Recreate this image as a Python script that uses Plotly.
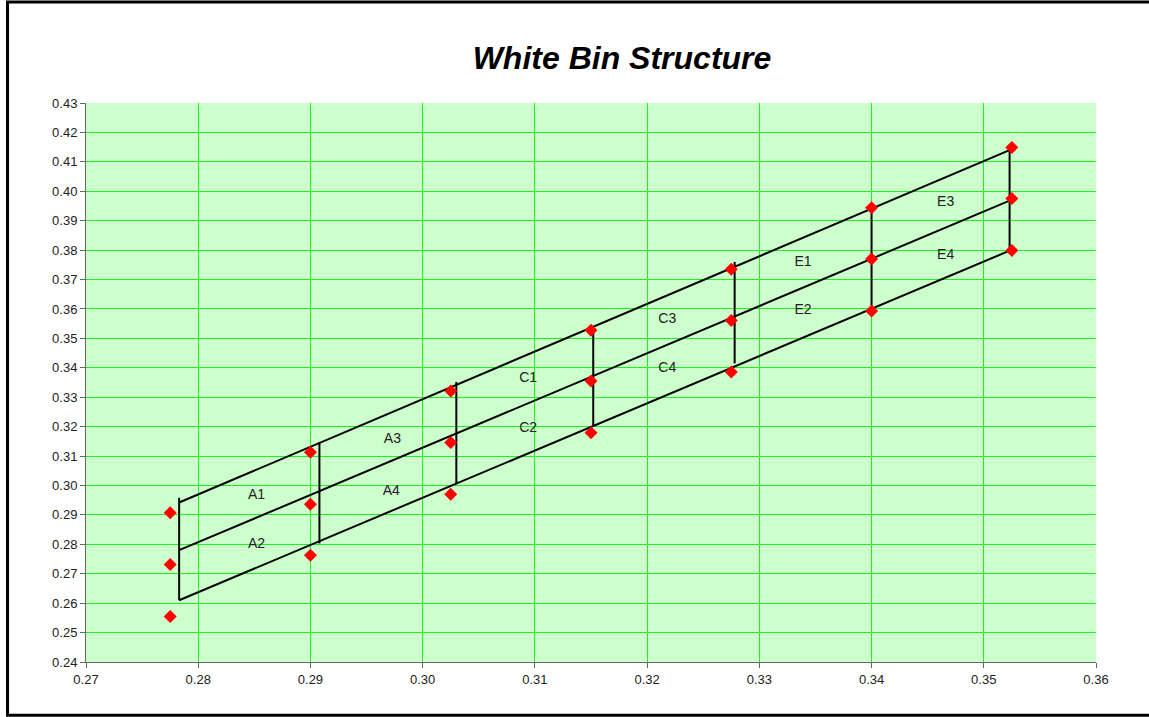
import plotly.graph_objects as go

# Marker points (bin corner points)
x_cols = [0.2775, 0.29, 0.3025, 0.315, 0.3275, 0.34, 0.3525]
upper = [0.2907, 0.3113, 0.3321, 0.3528, 0.3735, 0.3944, 0.4149]
middle = [0.2731, 0.2936, 0.3146, 0.3355, 0.3561, 0.3770, 0.3975]
lower = [0.2555, 0.2763, 0.2970, 0.3179, 0.3386, 0.3593, 0.3799]

# Bin boundary lines (diagonals)
diag_x = [0.2783, 0.3523]
top_line_y = [0.2942, 0.4140]
mid_line_y = [0.2780, 0.3968]
bot_line_y = [0.2610, 0.3798]

# Bin boundary lines (verticals)
vert_x = [0.2783, 0.2908, 0.3030, 0.3152, 0.3278, 0.3400, 0.3523]
vert_top = [0.2958, 0.3148, 0.3352, 0.3539, 0.3760, 0.3953, 0.4154]
vert_bot = [0.2610, 0.2803, 0.3004, 0.3203, 0.3415, 0.3607, 0.3798]

# Bin labels
bin_names = ["A1", "A2", "A3", "A4", "C1", "C2", "C3", "C4", "E1", "E2", "E3", "E4"]
bin_x = [0.2852, 0.2852, 0.2973, 0.2972, 0.3094, 0.3094, 0.3218, 0.3218, 0.3339, 0.3339, 0.3466, 0.3466]
bin_y = [0.2967, 0.2800, 0.3156, 0.2981, 0.3362, 0.3192, 0.3564, 0.3396, 0.3759, 0.3596, 0.3963, 0.3783]

x_ticks = [0.27, 0.28, 0.29, 0.30, 0.31, 0.32, 0.33, 0.34, 0.35, 0.36]
y_ticks = [0.24, 0.25, 0.26, 0.27, 0.28, 0.29, 0.30, 0.31, 0.32, 0.33,
           0.34, 0.35, 0.36, 0.37, 0.38, 0.39, 0.40, 0.41, 0.42, 0.43]

fig = go.Figure()

line_style = dict(color="black", width=2)
for ys in (top_line_y, mid_line_y, bot_line_y):
    fig.add_trace(go.Scatter(x=diag_x, y=ys, mode="lines", line=line_style,
                             hoverinfo="skip", showlegend=False))

vx, vy = [], []
for x, t, b in zip(vert_x, vert_top, vert_bot):
    vx += [x, x, None]
    vy += [t, b, None]
fig.add_trace(go.Scatter(x=vx, y=vy, mode="lines", line=line_style,
                         hoverinfo="skip", showlegend=False))

pts_x = x_cols * 3
pts_y = upper + middle + lower
fig.add_trace(go.Scatter(x=pts_x, y=pts_y, mode="markers",
                         marker=dict(symbol="diamond", size=10, color="#ff0000",
                                     line=dict(width=0)),
                         showlegend=False))

fig.add_trace(go.Scatter(x=bin_x, y=bin_y, mode="text", text=bin_names,
                         textposition="middle center",
                         textfont=dict(family="Liberation Sans, Arial", size=14, color="#222222"),
                         hoverinfo="skip", showlegend=False))

# outer chart border (right edge lies beyond the visible page)
fig.add_shape(type="rect", xref="paper", yref="paper",
              x0=-0.0777, x1=1.08, y0=-0.0954, y1=1.1808,
              line=dict(color="black", width=3), fillcolor="rgba(0,0,0,0)", layer="below")

axis_common = dict(
    showgrid=True, gridcolor="#22ee22", gridwidth=1,
    zeroline=False, showline=True, linecolor="#666666", linewidth=1,
    ticks="outside", ticklen=5, tickcolor="#666666", tickwidth=1,
    tickfont=dict(family="Liberation Sans, Arial", size=13, color="#222222"),
    tickformat=".2f",
)

fig.update_layout(
    width=1149, height=717,
    margin=dict(l=86, r=53, t=103, b=55),
    paper_bgcolor="white",
    plot_bgcolor="#ccffcc",
    title=dict(text="<b><i>White Bin Structure</i></b>",
               x=622 / 1149, xanchor="center", xref="container",
               y=1 - 58 / 717, yanchor="middle", yref="container",
               font=dict(family="Liberation Sans, Arial", size=32, color="black")),
    xaxis=dict(range=[0.27, 0.36], tickvals=x_ticks, **axis_common),
    yaxis=dict(range=[0.24, 0.43], tickvals=y_ticks, **axis_common),
)

fig.write_html("out.html",
               config={"displayModeBar": False},
               post_script="document.body.style.margin='0';document.body.style.overflow='hidden';")
